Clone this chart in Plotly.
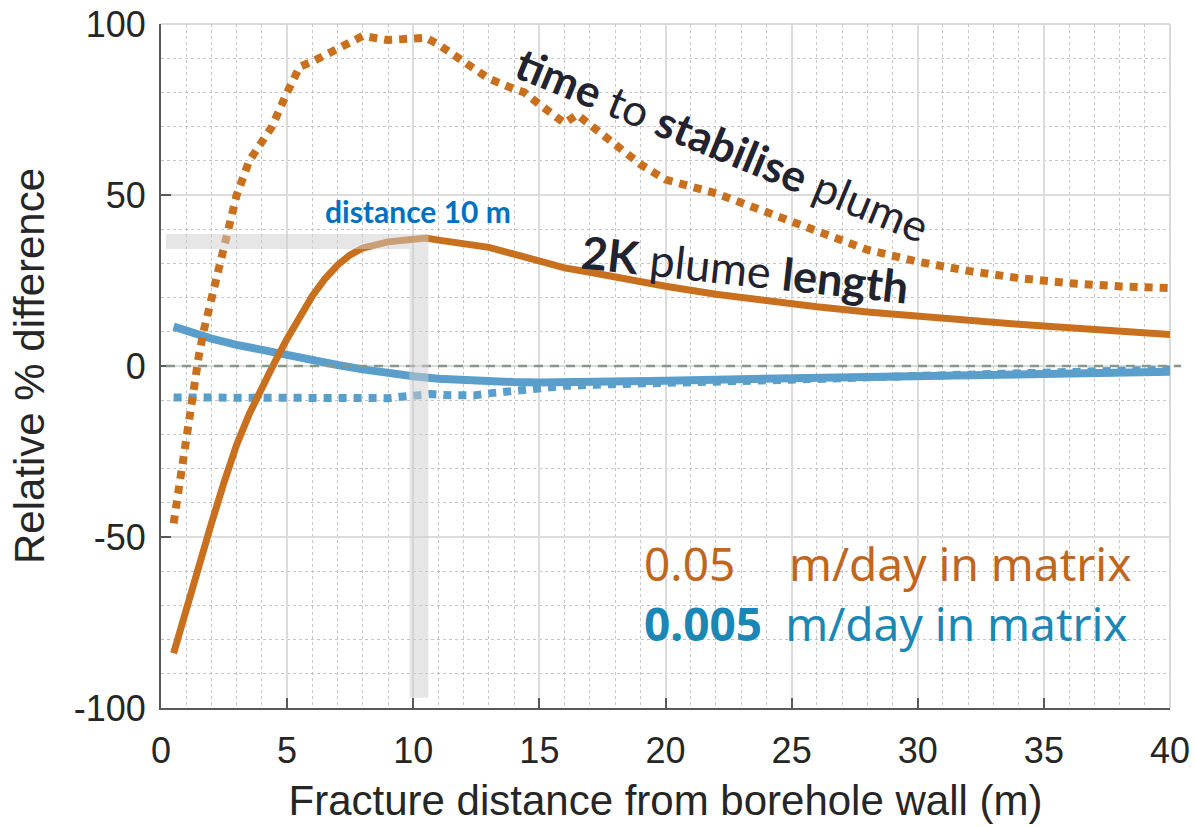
import plotly.graph_objects as go

# Fracture distance from the borehole wall (m) and relative % differences
x_len_05 = [0.5, 1.0, 1.5, 2.0, 2.5, 3.0, 3.5, 4.0, 4.5, 5.0, 5.5, 6.0, 6.5, 7.0, 7.5, 8.0,
            9.0, 10.0, 10.5, 11.0, 12.0, 13.0, 14.0, 15.0, 16.0, 17.0, 18.0, 19.0, 20.0,
            22.0, 24.0, 26.0, 28.0, 30.0, 32.0, 34.0, 36.0, 38.0, 40.0]
len_05 = [-84, -71, -58, -46, -34, -23, -14, -6, 1, 8, 14.5, 20.5, 25.5, 29.5, 32.5, 34.5,
          36.3, 37.3, 37.4, 36.8, 35.8, 34.7, 32.7, 30.6, 28.7, 27.4, 26, 24.6, 23.3,
          21, 19, 17.3, 15.8, 14.5, 13.3, 12.2, 11.2, 10.1, 9.2]

x_time_05 = [0.5, 0.7, 1.0, 1.2, 1.5, 1.7, 2.0, 2.5, 3.0, 3.5, 4.0, 4.4, 5.0, 5.5, 6.0, 7.0,
             8.0, 9.0, 10.0, 10.5, 11.0, 12.0, 13.0, 14.0, 14.4, 15.0, 16.0, 16.5, 17.0,
             18.0, 19.0, 20.0, 22.0, 24.0, 26.0, 28.0, 30.0, 32.0, 34.0, 36.0, 38.0, 40.0]
time_05 = [-46, -36, -20, -9, 3, 10.5, 20, 35, 50, 60, 66, 70, 80, 87.5, 89, 92.5,
           96.5, 95.3, 95.5, 96, 94, 89, 84, 81, 80, 76.5, 71, 73.5, 70.5,
           64.5, 59, 54.5, 50.5, 45, 39.5, 34, 30.5, 27.8, 25.7, 24.2, 23.3, 22.8]

x_len_005 = [0.5, 1, 2, 3, 4, 5, 6, 7, 8, 9, 10, 11, 12, 13, 14, 15, 17, 20, 25, 30, 35, 40]
len_005 = [11.5, 10.2, 8, 6.2, 4.6, 3, 1.7, 0.3, -1, -2.2, -3, -3.7, -4.2, -4.5, -4.7,
           -4.8, -4.7, -4.3, -3.6, -2.8, -2.2, -1.7]

x_time_005 = [0.5, 2, 4, 6, 7.5, 8.3, 9, 9.5, 10.1, 10.7, 11.2, 11.8, 12.4, 13, 13.7,
              14.3, 15, 16, 18, 20, 25, 30, 35, 38, 40]
time_005 = [-9.2, -9.2, -9.2, -9.2, -9.2, -9.6, -9.4, -9.0, -8.4, -8.2, -8.5, -8.8, -8.6,
            -8.0, -7.6, -7.1, -6.3, -5.8, -5.3, -5.0, -4.0, -2.9, -1.9, -1.3, -1.0]

x_ticks = [0, 5, 10, 15, 20, 25, 30, 35, 40]
y_ticks = [-100, -50, 0, 50, 100]

ORANGE = "#C8701E"
BLUE = "#5A9FCB"
AXIS = "#595959"
TXT = "#262626"

fig = go.Figure()

fig.add_trace(go.Scatter(x=x_time_005, y=time_005, mode="lines",
                         line=dict(color=BLUE, width=8, dash="8px,7px"),
                         name="time to stabilise plume (0.005 m/day)"))
fig.add_trace(go.Scatter(x=x_len_005, y=len_005, mode="lines",
                         line=dict(color=BLUE, width=8),
                         name="2K plume length (0.005 m/day)"))
fig.add_trace(go.Scatter(x=x_time_05, y=time_05, mode="lines",
                         line=dict(color=ORANGE, width=8, dash="8px,7px"),
                         name="time to stabilise plume (0.05 m/day)"))
fig.add_trace(go.Scatter(x=x_len_05, y=len_05, mode="lines",
                         line=dict(color=ORANGE, width=7),
                         name="2K plume length (0.05 m/day)"))

shapes = [
    # light frame on the top and right edges
    dict(type="line", xref="paper", yref="paper", x0=0, x1=1, y0=1, y1=1,
         line=dict(color="#d9d9d9", width=2), layer="below"),
    dict(type="line", xref="paper", yref="paper", x0=1, x1=1, y0=0, y1=1,
         line=dict(color="#d9d9d9", width=2), layer="below"),
    # dashed zero reference
    dict(type="line", xref="paper", yref="y", x0=0.005, x1=1.011, y0=0, y1=0,
         line=dict(color="#889888", width=2.5, dash="9px,7px"), layer="above"),
    # highlight of the peak at 10 m
    dict(type="rect", xref="x", yref="y", x0=0.2, x1=9.85, y0=34.2, y1=38.6,
         fillcolor="rgba(205,205,205,0.5)", line=dict(width=0), layer="above"),
    dict(type="rect", xref="x", yref="y", x0=9.85, x1=10.6, y0=-97, y1=38.6,
         fillcolor="rgba(205,205,205,0.5)", line=dict(width=0), layer="above"),
]

legend_text = (
    '<span style="color:#C0661E">0.05\u2002\u2002\u2006m/day in matrix</span><br>'
    '<span style="color:#1A87B4"><b>0.005</b>\u2002m/day in matrix</span>'
)

annotations = [
    dict(x=22.25, y=65.0, xref="x", yref="y", textangle=22.3, showarrow=False,
         text="<b>time</b> to <b>stabilise</b> plume",
         font=dict(family="Lato", size=44, color="#23232F"),
         xanchor="center", yanchor="middle"),
    dict(x=23.15, y=28.4, xref="x", yref="y", textangle=6.2, showarrow=False,
         text="<b>2K</b> plume <b>length</b>",
         font=dict(family="Lato", size=45, color="#23232F"),
         xanchor="center", yanchor="middle"),
    dict(x=10.19, y=45.3, xref="x", yref="y", showarrow=False,
         text="<b>distance 10 m</b>",
         font=dict(family="Lato", size=30, color="#0070C0"),
         xanchor="center", yanchor="middle"),
    dict(x=19.05, y=-66.4, xref="x", yref="y", showarrow=False, text=legend_text,
         align="left", font=dict(family="Noto Sans", size=46, color="#C0661E"),
         xanchor="left", yanchor="middle"),
]

fig.update_layout(
    width=1195, height=827,
    margin=dict(l=161, r=25, t=24, b=119),
    paper_bgcolor="white", plot_bgcolor="white",
    showlegend=False,
    shapes=shapes, annotations=annotations,
    font=dict(family="Liberation Sans, Arial", color=TXT),
)

fig.update_xaxes(
    range=[0, 40], tickvals=x_ticks, ticktext=[str(v) for v in x_ticks],
    automargin=False,
    showline=True, linecolor=AXIS, linewidth=2,
    ticks="inside", ticklen=10, tickwidth=2, tickcolor=AXIS,
    tickfont=dict(size=36, color=TXT), ticklabelstandoff=10,
    showgrid=True, gridcolor="#dcdcdc", gridwidth=2,
    minor=dict(dtick=1, showgrid=True, gridcolor="#c4c4c4", gridwidth=1, griddash="dot"),
    zeroline=False,
    title=dict(text="Fracture distance from borehole wall (m)",
               font=dict(size=42, color=TXT), standoff=15),
)
fig.update_yaxes(
    range=[-100, 100], tickvals=y_ticks, ticktext=[str(v) for v in y_ticks],
    automargin=False,
    showline=True, linecolor=AXIS, linewidth=2,
    ticks="inside", ticklen=10, tickwidth=2, tickcolor=AXIS,
    tickfont=dict(size=36, color=TXT), ticklabelstandoff=6,
    showgrid=True, gridcolor="#dcdcdc", gridwidth=2,
    minor=dict(dtick=10, showgrid=True, gridcolor="#c4c4c4", gridwidth=1, griddash="dot"),
    zeroline=False,
    title=dict(text="Relative % difference", font=dict(size=42, color=TXT), standoff=16),
)

fig.write_html("out.html")
